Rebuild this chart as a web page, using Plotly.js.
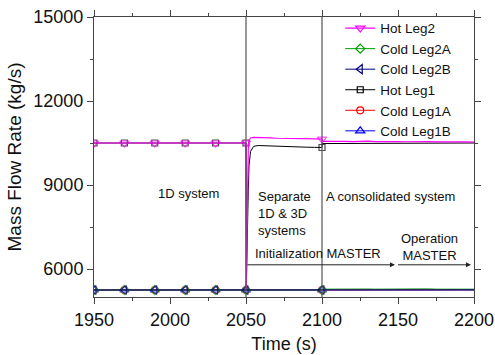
<!DOCTYPE html>
<html>
<head>
<meta charset="utf-8">
<script src="https://cdn.plot.ly/plotly-3.0.1.min.js"></script>
<style>html,body{margin:0;padding:0;background:#fff;}#chart{width:495px;height:355px;}</style>
</head>
<body>
<div id="chart"></div>
<script>
// ---- data ----
var time = [1950,1970,1990,2010,2030,2050,2050.2,2050.6,2051,2051.5,2052,2053,2055,2058,2062,2066,2070,2075,2080,2085,2090,2095,2100,
            2100.2,2105,2110,2115,2120,2125,2130,2135,2140,2145,2150,2155,2160,2165,2170,2175,2180,2185,2190,2195,2200];
var markerTimes = [1950,1970,1990,2010,2030,2050,2100];

var hotLeg2 = [10500,10500,10500,10500,10500,10500,5300,7600,9400,10300,10600,10680,10700,10700,10690,10680,10670,10670,10660,10660,10650,10650,10640,
               10560,10560,10570,10560,10550,10560,10570,10550,10555,10565,10550,10545,10555,10545,10550,10540,10545,10540,10535,10540,10530];
var hotLeg1 = [10500,10500,10500,10500,10500,10500,5300,6000,7500,8800,9700,10200,10380,10410,10400,10390,10380,10370,10370,10360,10350,10345,10340,
               10480,10480,10490,10485,10495,10490,10500,10490,10495,10505,10495,10500,10490,10500,10495,10505,10500,10495,10500,10505,10500];
var coldLeg2A = [5250,5250,5250,5250,5250,5250,5250,5250,5250,5250,5250,5250,5250,5250,5250,5250,5250,5250,5250,5250,5250,5250,5250,
                 5280,5285,5290,5285,5280,5290,5285,5280,5285,5290,5280,5285,5280,5285,5290,5280,5285,5280,5285,5280,5280];
var coldLeg2B = [5250,5250,5250,5250,5250,5250,5250,5250,5250,5250,5250,5250,5250,5250,5250,5250,5250,5250,5250,5250,5250,5250,5250,
                 5255,5255,5260,5255,5255,5260,5255,5255,5260,5255,5255,5260,5255,5255,5260,5255,5255,5260,5255,5255,5255];
var coldLeg1A = [5250,5250,5250,5250,5250,5250,5250,5250,5250,5250,5250,5250,5250,5250,5250,5250,5250,5250,5250,5250,5250,5250,5250,
                 5260,5265,5270,5265,5260,5270,5265,5260,5265,5270,5260,5265,5260,5265,5270,5260,5265,5260,5265,5260,5260];
var coldLeg1B = [5250,5250,5250,5250,5250,5250,5250,5250,5250,5250,5250,5250,5250,5250,5250,5250,5250,5250,5250,5250,5250,5250,5250,
                 5252,5252,5255,5252,5252,5255,5252,5252,5255,5252,5252,5255,5252,5252,5255,5252,5252,5255,5252,5252,5252];

var legendOrder = ['Hot Leg2','Cold Leg2A','Cold Leg2B','Hot Leg1','Cold Leg1A','Cold Leg1B'];

var phaseTimes = [2050, 2100];
var arrowY = 6150;
var arrowSegments = [[2050, 2148], [2149, 2198]];

// ---- styles ----
var styles = {
  'Hot Leg2':   {y: hotLeg2,   color: '#ff00ff', symbol: 'triangle-down-open', size: 8, width: 1.2},
  'Cold Leg2A': {y: coldLeg2A, color: '#00a000', symbol: 'diamond-open',       size: 7, width: 1},
  'Cold Leg2B': {y: coldLeg2B, color: '#000080', symbol: 'triangle-left-open', size: 8, width: 1},
  'Hot Leg1':   {y: hotLeg1,   color: '#000000', symbol: 'square-open',        size: 6, width: 1},
  'Cold Leg1A': {y: coldLeg1A, color: '#ff0000', symbol: 'circle-open',        size: 7, width: 1},
  'Cold Leg1B': {y: coldLeg1B, color: '#0000ff', symbol: 'triangle-up-open',   size: 8, width: 1}
};
var drawOrder = ['Cold Leg1B','Cold Leg1A','Hot Leg1','Cold Leg2A','Cold Leg2B','Hot Leg2'];

var traces = [];
drawOrder.forEach(function(name){
  var s = styles[name];
  var sizes = time.map(function(t){ return markerTimes.indexOf(t) >= 0 ? s.size : 0; });
  traces.push({
    x: time, y: s.y, name: name, type: 'scatter', mode: 'lines+markers', showlegend: false,
    line: {color: s.color, width: s.width},
    marker: {symbol: s.symbol, size: sizes, color: s.color, line: {color: s.color, width: 1.2}}
  });
});
// legend entries
legendOrder.forEach(function(name, i){
  var s = styles[name];
  traces.push({
    x: [null], y: [null], name: name, type: 'scatter', mode: 'lines+markers', legendrank: i + 1,
    line: {color: s.color, width: s.width},
    marker: {symbol: s.symbol, size: s.size, color: s.color, line: {color: s.color, width: 1.2}}
  });
});

var font = 'Liberation Sans, Arial, sans-serif';

var shapes = phaseTimes.map(function(t){
  return {type: 'line', xref: 'x', yref: 'paper', x0: t, x1: t, y0: 0, y1: 1,
          line: {color: '#555555', width: 1.2}, layer: 'above'};
});

var annotations = arrowSegments.map(function(s){
  return {x: s[1], y: arrowY, ax: s[0], ay: arrowY, xref: 'x', yref: 'y', axref: 'x', ayref: 'y',
          text: '', showarrow: true, arrowhead: 2, arrowsize: 1, arrowwidth: 1, arrowcolor: '#222222', standoff: 0};
});
var txt = {font: {family: font, size: 13, color: '#111111'}, showarrow: false, xref: 'x', yref: 'y'};
function lab(o){ return Object.assign({}, txt, o); }
annotations.push(lab({x: 2012, y: 8714, text: '1D system', xanchor: 'center', yanchor: 'middle'}));
annotations.push(lab({x: 2056.5, y: 8000, text: 'Separate<br>1D &amp; 3D<br>systems', xanchor: 'left', yanchor: 'middle', align: 'left'}));
annotations.push(lab({x: 2101.5, y: 8607, text: 'A consolidated system', xanchor: 'left', yanchor: 'middle'}));
annotations.push(lab({x: 2054.5, y: 6536, text: 'Initialization MASTER', xanchor: 'left', yanchor: 'middle'}));
annotations.push(lab({x: 2171, y: 6780, text: 'Operation<br>MASTER', xanchor: 'center', yanchor: 'middle', align: 'center'}));

var axisCommon = {
  showgrid: false, zeroline: false, showline: true, linecolor: '#444444', linewidth: 1,
  mirror: 'ticks', ticks: 'outside', ticklen: 6, tickwidth: 1, tickcolor: '#444444',
  tickfont: {family: font, size: 18, color: '#111111'}, tickformat: 'd'
};

var layout = {
  width: 495, height: 355,
  margin: {l: 94, r: 21, t: 17, b: 58},
  paper_bgcolor: '#ffffff', plot_bgcolor: '#ffffff',
  showlegend: true,
  legend: {x: 0.648, y: 1.015, xanchor: 'left', yanchor: 'top', bgcolor: 'rgba(255,255,255,0)',
           font: {family: font, size: 13.5, color: '#111111'}, tracegroupgap: 0, itemwidth: 30},
  xaxis: Object.assign({}, axisCommon, {
    range: [1950, 2200], tick0: 1950, dtick: 50,
    minor: {dtick: 25, ticks: 'outside', ticklen: 3, tickcolor: '#444444', showgrid: false},
    title: {text: 'Time (s)', font: {family: font, size: 18, color: '#111111'}, standoff: 8}
  }),
  yaxis: Object.assign({}, axisCommon, {
    range: [5000, 15000], tick0: 6000, dtick: 3000,
    minor: {dtick: 1500, ticks: 'outside', ticklen: 3, tickcolor: '#444444', showgrid: false},
    title: {text: 'Mass Flow Rate (kg/s)', font: {family: font, size: 19, color: '#111111'}, standoff: 6}
  }),
  shapes: shapes,
  annotations: annotations
};

Plotly.newPlot('chart', traces, layout, {displayModeBar: false, staticPlot: true});
</script>
</body>
</html>
